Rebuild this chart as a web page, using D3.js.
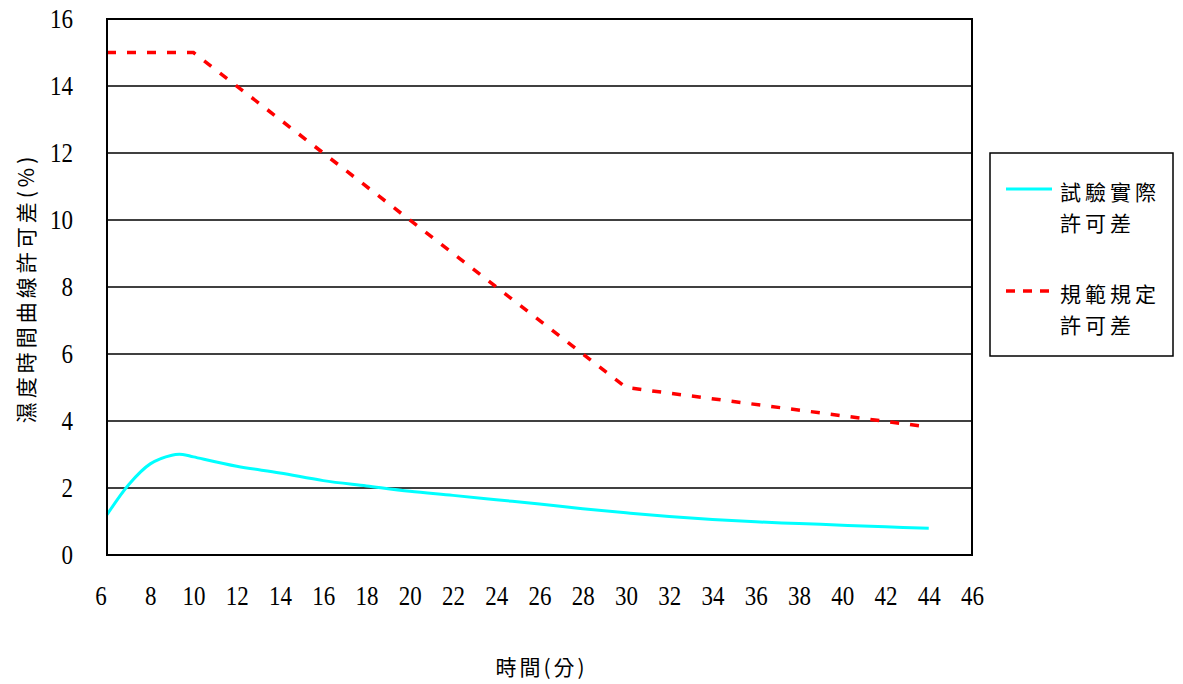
<!DOCTYPE html>
<meta charset="utf-8">
<script src="https://d3js.org/d3.v7.min.js"></script>
<style>
  body { margin: 0; background: #fff; }
  .num { font-family: "Liberation Serif", "DejaVu Serif", "Times New Roman", serif; }
  .cjk { font-family: "Noto Sans CJK TC", "Noto Sans CJK SC", sans-serif; }
</style>
<div id="chart"></div>
<script>
  // tick values
  var xTicks = [6, 8, 10, 12, 14, 16, 18, 20, 22, 24, 26, 28, 30, 32, 34, 36, 38, 40, 42, 44, 46];
  var yTicks = [0, 2, 4, 6, 8, 10, 12, 14, 16];

  // 試驗實際許可差 (measured)
  var actualX = [6, 7, 8, 9, 9.5, 10, 12, 14, 16, 18, 20, 22, 24, 26, 28, 30, 32, 34, 36, 38, 40, 42, 44];
  var actualY = [1.2, 2.1, 2.72, 2.98, 3.0, 2.93, 2.65, 2.45, 2.22, 2.06, 1.9, 1.78, 1.65, 1.52, 1.38, 1.26, 1.15, 1.06, 0.99, 0.94, 0.89, 0.84, 0.8];

  // 規範規定許可差 (specified)
  var specX = [6, 10, 30, 44];
  var specY = [15, 15, 5, 3.82];

  var margin = { top: 19, left: 107 },
      width = 865,
      height = 536;

  var svg = d3.select("#chart")
      .append("svg")
      .attr("width", 1183)
      .attr("height", 684);

  var g = svg.append("g")
      .attr("transform", "translate(" + margin.left + "," + margin.top + ")");

  var x = d3.scaleLinear().domain([6, 46]).range([0, width]);
  var y = d3.scaleLinear().domain([0, 16]).range([height, 0]);

  // gridlines
  g.append("g")
      .selectAll("line")
      .data(yTicks.slice(1, -1))
      .enter()
      .append("line")
      .attr("x1", 0)
      .attr("x2", width)
      .attr("y1", function (d) { return y(d); })
      .attr("y2", function (d) { return y(d); })
      .attr("stroke", "#000")
      .attr("stroke-width", 1.5);

  // Y axis labels
  var yAxis = g.append("g")
      .attr("transform", "translate(-34,0)")
      .call(d3.axisLeft(y).tickValues(yTicks).tickSize(0).tickPadding(0));
  yAxis.attr("font-family", null).attr("font-size", null);
  yAxis.select(".domain").remove();
  yAxis.selectAll("text")
      .attr("class", "num")
      .attr("x", 0)
      .attr("dy", "0.32em")
      .attr("transform", "scale(0.92,1.12)")
      .style("font-size", "25px");

  // X axis labels
  var xAxis = g.append("g")
      .attr("transform", "translate(0," + (height + 50) + ")")
      .call(d3.axisBottom(x).tickValues(xTicks).tickSize(0).tickPadding(0));
  xAxis.attr("font-family", null).attr("font-size", null);
  xAxis.select(".domain").remove();
  xAxis.selectAll("text")
      .attr("class", "num")
      .attr("y", 0)
      .attr("dy", 0)
      .attr("transform", "scale(0.92,1.12)")
      .style("font-size", "25px");
  xAxis.selectAll(".tick").filter(function (d) { return d === 6; })
      .select("text").attr("dx", -7);

  // lines
  var actual = actualX.map(function (d, i) { return [d, actualY[i]]; });
  var spec = specX.map(function (d, i) { return [d, specY[i]]; });

  g.append("path")
      .datum(actual)
      .attr("fill", "none")
      .attr("stroke", "#00ffff")
      .attr("stroke-width", 3)
      .attr("d", d3.line()
          .x(function (d) { return x(d[0]); })
          .y(function (d) { return y(d[1]); })
          .curve(d3.curveCatmullRom.alpha(0.5)));

  g.append("path")
      .datum(spec)
      .attr("fill", "none")
      .attr("stroke", "#ff0000")
      .attr("stroke-width", 3.5)
      .attr("stroke-dasharray", "9,11")
      .attr("d", d3.line()
          .x(function (d) { return x(d[0]); })
          .y(function (d) { return y(d[1]); }));

  // plot frame
  g.append("rect")
      .attr("x", 0)
      .attr("y", 0)
      .attr("width", width)
      .attr("height", height)
      .attr("fill", "none")
      .attr("stroke", "#000")
      .attr("stroke-width", 2);

  // axis titles
  svg.append("text")
      .attr("class", "cjk")
      .attr("text-anchor", "middle")
      .attr("x", margin.left + width / 2 + 2)
      .attr("y", 675)
      .style("font-size", "21px")
      .style("letter-spacing", "3px")
      .text("時間(分)");

  svg.append("text")
      .attr("class", "cjk")
      .attr("text-anchor", "middle")
      .attr("transform", "translate(34,288) rotate(-90)")
      .style("font-size", "21px")
      .style("letter-spacing", "4px")
      .text("濕度時間曲線許可差(%)");

  // legend
  var legend = svg.append("g").attr("transform", "translate(990,153)");
  legend.append("rect")
      .attr("width", 183)
      .attr("height", 203)
      .attr("fill", "#fff")
      .attr("stroke", "#000")
      .attr("stroke-width", 1.5);

  var legendData = [
      { label: ["試驗實際", "許可差"], color: "#00ffff", dash: null, y: 36 },
      { label: ["規範規定", "許可差"], color: "#ff0000", dash: "9,8", y: 138 }
  ];

  legendData.forEach(function (d) {
      legend.append("line")
          .attr("x1", 16)
          .attr("x2", 62)
          .attr("y1", d.y)
          .attr("y2", d.y)
          .attr("stroke", d.color)
          .attr("stroke-width", d.dash ? 3.5 : 3)
          .attr("stroke-dasharray", d.dash);
      d.label.forEach(function (t, i) {
          legend.append("text")
              .attr("class", "cjk")
              .attr("x", 70)
              .attr("y", d.y + 11 + i * 31)
              .style("font-size", "21px")
              .style("letter-spacing", "4px")
              .text(t);
      });
  });
</script>
